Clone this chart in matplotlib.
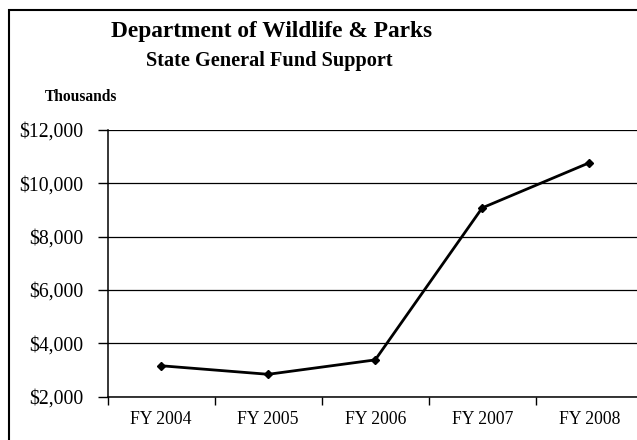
import matplotlib
matplotlib.use("Agg")
import matplotlib.pyplot as plt
from matplotlib.patches import Rectangle
from matplotlib.ticker import FuncFormatter, FixedLocator

# ---- data (thousands of dollars)
years = ["FY 2004", "FY 2005", "FY 2006", "FY 2007", "FY 2008"]
support = [3160, 2840, 3380, 9080, 10770]
y_ticks = [2000, 4000, 6000, 8000, 10000, 12000]

plt.rcParams["font.family"] = ["Liberation Serif", "DejaVu Serif"]

W, H = 637, 440
fig = plt.figure(figsize=(W / 100, H / 100), dpi=100)

# plot area in pixel terms, runs off the right edge on purpose
left, right, top, bottom = 107.7, 642.7, 130, 396.7
ax = fig.add_axes([left / W, (H - bottom) / H, (right - left) / W, (bottom - top) / H])

x = list(range(len(years)))
ax.plot(x, support, color="black", lw=2, marker="D", ms=4, zorder=3)

ax.set_xlim(-0.5, len(years) - 0.5)
ax.set_ylim(y_ticks[0], y_ticks[-1])

ax.set_yticks(y_ticks)
ax.yaxis.set_major_formatter(FuncFormatter(lambda v, p: f"${v:,.0f}"))
ax.grid(axis="y", color="black", lw=0.9)
ax.set_axisbelow(True)

ax.set_xticks(x)
ax.set_xticklabels(years)
ax.xaxis.set_minor_locator(FixedLocator([i - 0.5 for i in range(len(years) + 1)]))
ax.tick_params(axis="x", which="major", length=0, pad=10, labelsize=12.7)
ax.tick_params(axis="x", which="minor", length=6, width=1, direction="out")
ax.tick_params(axis="y", length=7, width=1, direction="out", pad=10.5, labelsize=14.2)

for side in ["top", "right"]:
    ax.spines[side].set_visible(False)
ax.spines["left"].set_linewidth(1.1)
ax.spines["bottom"].set_linewidth(1.1)

# titles
fig.text(272 / W, 1 - 31 / H, "Department of Wildlife & Parks", ha="center", va="center",
         fontsize=16.8, fontweight="bold")
fig.text(269 / W, 1 - 61 / H, "State General Fund Support", ha="center", va="center",
         fontsize=14.6, fontweight="bold")
fig.text(45 / W, 1 - 97 / H, "Thousands", ha="left", va="center",
         fontsize=11.2, fontweight="bold")

# outer chart frame
fig.add_artist(Rectangle((8.5 / W, -0.1), 1.2, (H - 10) / H + 0.1, transform=fig.transFigure,
                         fill=False, lw=1.5, ec="black"))

fig.savefig("out.png", dpi=100)
